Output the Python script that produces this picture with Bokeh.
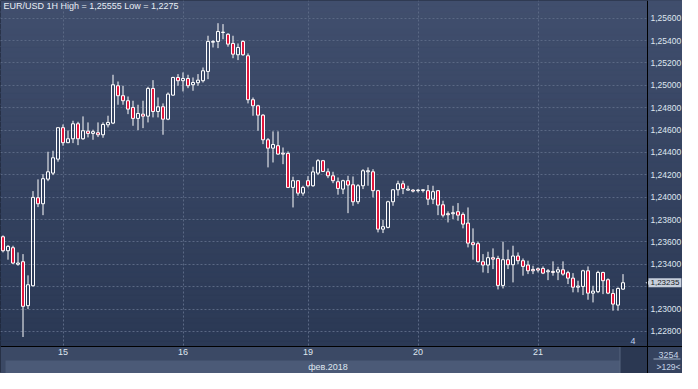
import numpy as np
from bokeh.plotting import figure
from bokeh.models import ColumnDataSource, FixedTicker, CustomJSTickFormatter, LinearAxis, Label, Range1d
from bokeh.embed import file_html
from bokeh.resources import INLINE

# ---- data: EUR/USD 1H candles ----
opens = [1.23646, 1.23521, 1.23548, 1.23400, 1.23423, 1.23030, 1.23208, 1.23995, 1.23941, 1.24161,
         1.24215, 1.24340, 1.24621, 1.24487, 1.24522, 1.24656, 1.24522, 1.24590, 1.24570, 1.24576,
         1.24558, 1.24647, 1.24662,
         1.24996, 1.24907, 1.24862, 1.24802, 1.24704, 1.24742, 1.24724, 1.24972, 1.24766, 1.24808,
         1.24697, 1.24912, 1.25070, 1.25041, 1.25061, 1.25005, 1.25023, 1.25041, 1.25124, 1.25385,
         1.25392,
         1.25475, 1.25456, 1.25374, 1.25273, 1.25392, 1.25264, 1.24871, 1.24817, 1.24733, 1.24513,
         1.24438, 1.24460, 1.24393, 1.24391, 1.24087, 1.24147, 1.24036, 1.24147, 1.24102, 1.24215,
         1.24326,
         1.24227, 1.24191, 1.24138, 1.24072, 1.24147, 1.24111, 1.23959, 1.24102, 1.24227, 1.24227,
         1.24058, 1.23714, 1.23730, 1.23959, 1.24066, 1.24120, 1.24063, 1.24063, 1.24058, 1.24060,
         1.24058,
         1.23982, 1.24058, 1.23932, 1.23852, 1.23852, 1.23870, 1.23846, 1.23768, 1.23593, 1.23584,
         1.23423, 1.23393, 1.23459, 1.23452, 1.23211, 1.23441, 1.23396, 1.23474, 1.23432, 1.23393,
         1.23354, 1.23360, 1.23363, 1.23333, 1.23336, 1.23330, 1.23351, 1.23325, 1.23276, 1.23195,
         1.23202, 1.23342, 1.23142, 1.23155, 1.23327, 1.23262, 1.23139, 1.23035, 1.23178]
highs = [1.23658, 1.23571, 1.23566, 1.23506, 1.23491, 1.23301, 1.24054, 1.24159, 1.24206, 1.24406,
         1.24415, 1.24623, 1.24650, 1.24596, 1.24683, 1.24674, 1.24722, 1.24668, 1.24603, 1.24668,
         1.24668, 1.24728, 1.25094,
         1.25034, 1.24996, 1.24900, 1.24862, 1.24826, 1.24862, 1.24987, 1.25046, 1.24891, 1.24838,
         1.24936, 1.25076, 1.25100, 1.25115, 1.25094, 1.25070, 1.25100, 1.25159, 1.25443, 1.25403,
         1.25555,
         1.25547, 1.25466, 1.25443, 1.25374, 1.25403, 1.25285, 1.24891, 1.24826, 1.24742, 1.24528,
         1.24588, 1.24588, 1.24444, 1.24409, 1.24183, 1.24152, 1.24102, 1.24188, 1.24272, 1.24340,
         1.24333,
         1.24257, 1.24227, 1.24176, 1.24156, 1.24191, 1.24185, 1.24117, 1.24250, 1.24266, 1.24250,
         1.24065, 1.23798, 1.23968, 1.24072, 1.24147, 1.24147, 1.24102, 1.24072, 1.24072, 1.24072,
         1.24108,
         1.24102, 1.24062, 1.23968, 1.23873, 1.23923, 1.23947, 1.23864, 1.23908, 1.23721, 1.23602,
         1.23491, 1.23512, 1.23542, 1.23476, 1.23602, 1.23530, 1.23566, 1.23506, 1.23452, 1.23432,
         1.23387, 1.23372, 1.23381, 1.23357, 1.23426, 1.23378, 1.23426, 1.23342, 1.23321, 1.23253,
         1.23351, 1.23381, 1.23208, 1.23342, 1.23333, 1.23274, 1.23178, 1.23193, 1.23312]
lows = [1.23506, 1.23441, 1.23402, 1.23387, 1.22750, 1.22999, 1.23202, 1.23911, 1.23839, 1.24143,
        1.24197, 1.24317, 1.24460, 1.24483, 1.24483, 1.24465, 1.24513, 1.24534, 1.24513, 1.24537,
        1.24531, 1.24623, 1.24653,
        1.24826, 1.24826, 1.24742, 1.24638, 1.24599, 1.24617, 1.24668, 1.24713, 1.24713, 1.24558,
        1.24688, 1.24907, 1.24996, 1.24945, 1.24974, 1.24951, 1.24996, 1.25025, 1.25055, 1.25338,
        1.25332,
        1.25412, 1.25345, 1.25242, 1.25225, 1.25264, 1.24838, 1.24728, 1.24594, 1.24474, 1.24266,
        1.24310, 1.24379, 1.24295, 1.24081, 1.23908, 1.24013, 1.24013, 1.24087, 1.24093, 1.24197,
        1.24226,
        1.24170, 1.24125, 1.24022, 1.24027, 1.23857, 1.23923, 1.23938, 1.24072, 1.24102, 1.23998,
        1.23685, 1.23679, 1.23721, 1.23923, 1.24013, 1.24027, 1.24058, 1.24042, 1.24042, 1.24042,
        1.23929,
        1.23938, 1.23839, 1.23819, 1.23774, 1.23804, 1.23789, 1.23721, 1.23551, 1.23441, 1.23417,
        1.23327, 1.23321, 1.23357, 1.23175, 1.23184, 1.23357, 1.23238, 1.23402, 1.23298, 1.23312,
        1.23312, 1.23327, 1.23312, 1.23258, 1.23298, 1.23258, 1.23298, 1.23223, 1.23149, 1.23149,
        1.23125, 1.23083, 1.23059, 1.23142, 1.23133, 1.23133, 1.22985, 1.22985, 1.23172]
closes = [1.23521, 1.23560, 1.23411, 1.23411, 1.23024, 1.23217, 1.23998, 1.23941, 1.24165, 1.24227,
          1.24352, 1.24621, 1.24487, 1.24522, 1.24656, 1.24522, 1.24594, 1.24570, 1.24585, 1.24558,
          1.24650, 1.24668, 1.25005,
          1.24907, 1.24862, 1.24787, 1.24704, 1.24748, 1.24724, 1.24972, 1.24766, 1.24808, 1.24697,
          1.24921, 1.25070, 1.25041, 1.25061, 1.24996, 1.25025, 1.25046, 1.25130, 1.25392, 1.25392,
          1.25481,
          1.25472, 1.25368, 1.25278, 1.25338, 1.25273, 1.24871, 1.24817, 1.24733, 1.24513, 1.24438,
          1.24471, 1.24385, 1.24385, 1.24087, 1.24147, 1.24036, 1.24087, 1.24102, 1.24226, 1.24326,
          1.24230,
          1.24191, 1.24147, 1.24078, 1.24147, 1.24108, 1.23959, 1.24102, 1.24236, 1.24236, 1.24058,
          1.23714, 1.23736, 1.23959, 1.24066, 1.24120, 1.24078, 1.24072, 1.24054, 1.24063, 1.24066,
          1.23982,
          1.24049, 1.23929, 1.23839, 1.23843, 1.23861, 1.23839, 1.23759, 1.23589, 1.23575, 1.23423,
          1.23393, 1.23459, 1.23446, 1.23211, 1.23441, 1.23396, 1.23474, 1.23432, 1.23381, 1.23342,
          1.23342, 1.23348, 1.23321, 1.23342, 1.23327, 1.23351, 1.23312, 1.23276, 1.23195, 1.23205,
          1.23342, 1.23142, 1.23160, 1.23327, 1.23253, 1.23142, 1.23044, 1.23184, 1.23235]

day_labels = ["15", "16", "19", "20", "21"]
day_start_bars = [12, 36, 61, 83, 107]
price_ticks = [1.228, 1.230, 1.232, 1.234, 1.236, 1.238, 1.240, 1.242, 1.244,
               1.246, 1.248, 1.250, 1.252, 1.254, 1.256]
hidden_tick = 1.232      # covered by the current-price tag in the picture
title_text = "EUR/USD 1H High = 1,25555 Low = 1,2275"
month_label = "фев.2018"
month_tick = 65
corner_top = "3254"
corner_bottom = ">129<"
marker_text = "4"

FONT = "Liberation Sans"
TXT = "#dfe6ef"

o = np.array(opens); h = np.array(highs); l = np.array(lows); c = np.array(closes)
idx = np.arange(len(o))
top = np.maximum(o, c)
bot = np.minimum(o, c)
bull = c >= o

# ---- layout geometry (pixels) ----
W, H = 682, 373          # whole chart
PW, PH = 647, 346        # price area
BAR_PX = 5.0
x_start = -0.5
x_end = x_start + W / BAR_PX
x_sep = x_start + PW / BAR_PX
y_sep, y_end = 1.22665, 1.25758
y_px = (y_end - y_sep) / PH
y_start = y_sep - (H - PH) * y_px
y_band = y_sep - 14 * y_px


def sx(px):
    return x_start + px / BAR_PX


def sy(py_from_top):
    return y_end - py_from_top * y_px


p = figure(frame_width=W, frame_height=H,
           x_range=Range1d(x_start, x_end), y_range=Range1d(y_start, y_end),
           y_axis_location="right", output_backend="svg", toolbar_location=None,
           min_border_left=0, min_border_top=0, min_border_right=0, min_border_bottom=0,
           background_fill_color="#36445f", border_fill_color="#36445f",
           outline_line_color="#151b29")

# vertical gradient background (price area + price-axis column)
n = 60
ys = np.linspace(y_sep, y_end, n + 1)
c_bot = np.array([43, 57, 85]); c_top = np.array([65, 79, 110])
cols = []
for i in range(n):
    t = (i + 0.5) / n
    r, g, b = (c_bot + (c_top - c_bot) * t).astype(int)
    cols.append("#%02x%02x%02x" % (r, g, b))
p.quad(left=x_start - 1, right=x_end + 1, bottom=ys[:-1], top=ys[1:],
       fill_color=cols, line_color=cols, line_width=1, level="image")

# grids
p.ygrid.ticker = FixedTicker(ticks=price_ticks)
p.ygrid.grid_line_color = "#5a6884"
p.ygrid.grid_line_dash = "2 2"
p.xgrid.ticker = FixedTicker(ticks=day_start_bars)
p.xgrid.grid_line_color = "#5a6884"
p.xgrid.grid_line_dash = "2 2"

# panels drawn over the grid: price-axis column, time bands, corner, scrollbar
p.quad(left=x_sep, right=x_end + 1, bottom=ys[:-1], top=ys[1:],
       fill_color=cols, line_color=cols, line_width=1)
p.quad(left=x_start - 1, right=x_sep, bottom=y_start - 1, top=y_sep,
       fill_color="#3b4965", line_color=None)
p.quad(left=sx(5), right=x_sep, bottom=y_start - 1, top=y_band,
       fill_color="#4b5a77", line_color=None)
p.quad(left=x_sep, right=x_end + 1, bottom=y_start - 1, top=y_sep,
       fill_color="#35435f", line_color=None)
p.quad(left=sx(619.5), right=x_sep, bottom=y_start - 1, top=y_sep,
       fill_color="#2b3852", line_color="#56647f", line_width=1)
p.segment(x0=sx(653), y0=sy(358.5), x1=sx(680), y1=sy(358.5), line_color="#9fb0c8", line_width=1)

# wicks
p.segment(x0=idx, y0=h, x1=idx, y1=top, line_color="white", line_width=1)
p.segment(x0=idx, y0=bot, x1=idx, y1=l, line_color="white", line_width=1)

# bodies
src = ColumnDataSource(dict(
    x=idx, top=top, bot=bot,
    fill=["#2f3d59" if b else "#e3163c" for b in bull],
    fa=[0.0 if b else 1.0 for b in bull],
))
p.vbar(x="x", width=0.6, top="top", bottom="bot", fill_color="fill", fill_alpha="fa",
       line_color="white", line_width=1, source=src)

# right price axis, drawn at the edge of the price area
yax = p.yaxis[0]
yax.fixed_location = x_sep
yax.ticker = FixedTicker(ticks=price_ticks)
yax.formatter = CustomJSTickFormatter(code="return tick.toFixed(5).replace('.', ',');")
yax.major_label_overrides = {hidden_tick: ""}
yax.axis_line_color = "#000000"
yax.major_tick_line_color = None
yax.minor_tick_line_color = None
yax.major_tick_out = 0
yax.major_tick_in = 0
yax.major_label_standoff = 3
yax.major_label_text_font = FONT
yax.major_label_text_font_size = "8.5px"
yax.major_label_text_color = TXT

# day axis
xax = p.xaxis[0]
xax.fixed_location = y_sep
xax.ticker = FixedTicker(ticks=day_start_bars)
xax.major_label_overrides = {b: d for b, d in zip(day_start_bars, day_labels)}
xax.axis_line_color = "#000000"
xax.major_tick_line_color = None
xax.minor_tick_line_color = None
xax.major_tick_out = 0
xax.major_tick_in = 0
xax.major_label_standoff = 2
xax.major_label_text_font = FONT
xax.major_label_text_font_size = "9px"
xax.major_label_text_color = TXT

ax2 = LinearAxis(ticker=FixedTicker(ticks=[month_tick]),
                 major_label_overrides={month_tick: month_label}, fixed_location=y_band)
ax2.axis_line_color = None
ax2.major_tick_line_color = None
ax2.minor_tick_line_color = None
ax2.major_tick_out = 0
ax2.major_tick_in = 0
ax2.major_label_standoff = 1
ax2.major_label_text_font = FONT
ax2.major_label_text_font_size = "9px"
ax2.major_label_text_color = TXT
p.add_layout(ax2, "below")

# current-price tag
p.scatter(x=[x_sep + 0.5], y=[closes[-1]], marker="triangle", angle=np.pi / 2, size=8,
          fill_color="#c6cedb", line_color=None)
p.add_layout(Label(x=PW + 1, y=closes[-1], x_units="screen", y_units="data",
                   text=("%.5f" % closes[-1]).replace(".", ","),
                   text_font=FONT, text_font_size="8px", text_color="#121824",
                   text_baseline="middle", background_fill_color="#c6cedb",
                   padding=2))

# texts
p.add_layout(Label(x=3, y=H - 5, x_units="screen", y_units="screen", text=title_text,
                   text_font=FONT, text_font_size="9px", text_color="#e8edf4",
                   text_baseline="middle"))
p.add_layout(Label(x=630, y=H - 340, x_units="screen", y_units="screen", text=marker_text,
                   text_font=FONT, text_font_size="9px", text_color="#bcd0ee",
                   text_baseline="middle"))
p.add_layout(Label(x=668, y=H - 354, x_units="screen", y_units="screen", text=corner_top,
                   text_font=FONT, text_font_size="9px", text_color="#c6d3e6",
                   text_baseline="middle", text_align="center"))
p.add_layout(Label(x=668, y=H - 366, x_units="screen", y_units="screen", text=corner_bottom,
                   text_font=FONT, text_font_size="8.5px", text_color="#c6d3e6",
                   text_baseline="middle", text_align="center"))

open("out.html", "w").write(file_html(p, INLINE))
